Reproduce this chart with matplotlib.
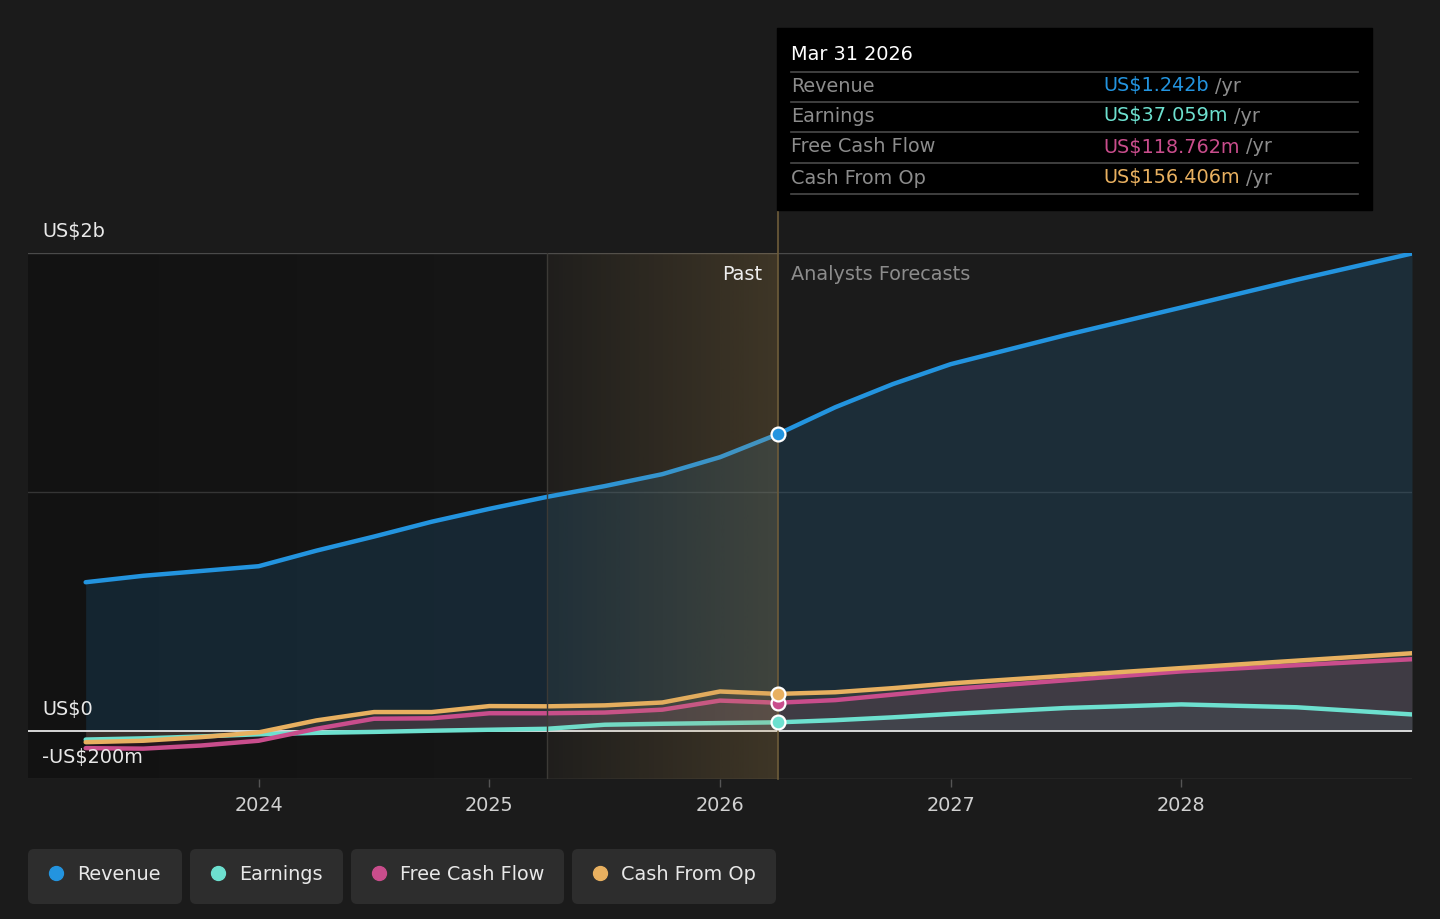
import numpy as np
import matplotlib
matplotlib.use("Agg")
import matplotlib.pyplot as plt
from matplotlib.patches import Rectangle, FancyBboxPatch

# ---- data (US$ billions, decimal years) ----
past_t = [2023.25, 2023.5, 2023.75, 2024.0, 2024.25, 2024.5, 2024.75,
          2025.0, 2025.25, 2025.5, 2025.75, 2026.0, 2026.25]
fc_t = [2026.25, 2026.5, 2026.75, 2027.0, 2027.5, 2028.0, 2028.5, 2029.0]

revenue_past = [0.623, 0.65, 0.67, 0.69, 0.755, 0.814, 0.876,
                0.93, 0.98, 1.025, 1.075, 1.146, 1.242]
revenue_fc = [1.242, 1.355, 1.452, 1.535, 1.657, 1.772, 1.888, 1.998]

earnings_past = [-0.035, -0.03, -0.022, -0.013, -0.007, -0.003, 0.002,
                 0.006, 0.01, 0.027, 0.031, 0.034, 0.037]
earnings_fc = [0.037, 0.046, 0.058, 0.072, 0.097, 0.112, 0.1, 0.07]

fcf_past = [-0.071, -0.073, -0.06, -0.04, 0.01, 0.052, 0.054,
            0.075, 0.075, 0.078, 0.09, 0.128, 0.119]
fcf_fc = [0.119, 0.13, 0.153, 0.176, 0.213, 0.25, 0.276, 0.301]

cfo_past = [-0.046, -0.04, -0.025, -0.005, 0.045, 0.08, 0.08,
            0.105, 0.104, 0.108, 0.12, 0.166, 0.156]
cfo_fc = [0.156, 0.163, 0.18, 0.2, 0.232, 0.264, 0.295, 0.326]

names = ["Revenue", "Earnings", "Free Cash Flow", "Cash From Op"]
colors = ["#2394df", "#6de0cf", "#c94d8c", "#e8b060"]
tip_values = ["US$1.242b", "US$37.059m", "US$118.762m", "US$156.406m"]
year_ticks = [2024, 2025, 2026, 2027, 2028]
now = 2026.25
band_start = 2025.25

BG = "#1b1b1b"
FS = 13.9
W, H = 1440, 919

fig = plt.figure(figsize=(W / 100, H / 100), dpi=100, facecolor=BG)
ax = fig.add_axes([28 / W, 1 - 779 / H, (1412 - 28) / W, (779 - 253) / H])
ax.set_facecolor(BG)
ax.set_xlim(2023.0, 2029.0)
ax.set_ylim(-0.2, 2.0)
for s in ax.spines.values():
    s.set_visible(False)

# darker past background
grad = np.linspace(0, 1, 256).reshape(1, -1)
dark = np.zeros((1, 256, 4))
dark[..., :3] = 0.05
dark[..., 3] = 0.6 - 0.25 * grad
ax.imshow(dark, extent=(2023.0, band_start, -0.2, 2.0), aspect="auto", zorder=0)

# grid
ax.axhline(2.0, color="#4a4a4a", lw=1, zorder=1)
ax.axhline(1.0, color="#353535", lw=1, zorder=1)
ax.axhline(-0.2, color="#4a4a4a", lw=1, zorder=1)

t_all = past_t + fc_t[1:]
rev_all = revenue_past + revenue_fc[1:]
ear_all = earnings_past + earnings_fc[1:]
fcf_all = fcf_past + fcf_fc[1:]
cfo_all = cfo_past + cfo_fc[1:]

ax.fill_between(t_all, 0, rev_all, color=colors[0], alpha=0.15, lw=0, zorder=2)
ax.fill_between(t_all, 0, cfo_all, color=colors[3], alpha=0.1, lw=0, zorder=2)
ax.fill_between(t_all, 0, fcf_all, color=colors[2], alpha=0.1, lw=0, zorder=2)
ax.fill_between(t_all, 0, ear_all, color=colors[1], alpha=0.05, lw=0, zorder=2)

ax.axhline(0, color="#e6e6e6", lw=1.3, zorder=3)

series = [rev_all, ear_all, fcf_all, cfo_all]
for vals, c in zip(series, colors):
    ax.plot(t_all, vals, color=c, lw=3.2, solid_capstyle="round",
            solid_joinstyle="round", zorder=4)

# highlight band over the last past year
band = np.zeros((1, 256, 4))
band[..., 0] = 190 / 255
band[..., 1] = 150 / 255
band[..., 2] = 80 / 255
band[..., 3] = 0.03 + 0.19 * grad
ax.imshow(band, extent=(band_start, now, -0.2, 2.0), aspect="auto", zorder=5)

ax.axvline(band_start, color="#3c3a36", lw=1, zorder=5)
ax.axvline(now, ymin=0, ymax=(779 - 210) / (779 - 253), color="#6e5c3a",
           lw=1.2, zorder=5, clip_on=False)

# current markers
for vals, c in zip(series, colors):
    ax.plot([now], [vals[len(past_t) - 1]], "o", ms=10, mfc=c, mec="white",
            mew=1.6, zorder=6)

# ticks
ax.set_xticks(year_ticks)
ax.set_xticklabels([str(y) for y in year_ticks])
ax.tick_params(axis="x", colors="#555555", labelcolor="#d0d0d0",
               labelsize=FS, length=6, width=1, pad=6)
ax.set_yticks([])

# y labels
fig.text(42 / W, 1 - 231 / H, "US$2b", color="#e8e8e8", fontsize=FS, va="center")
fig.text(42 / W, 1 - 709 / H, "US$0", color="#e8e8e8", fontsize=FS, va="center")
fig.text(42 / W, 1 - 758 / H, "-US$200m", color="#e8e8e8", fontsize=FS, va="center")

fig.text(762 / W, 1 - 274 / H, "Past", color="#eeeeee", fontsize=FS,
         ha="right", va="center")
fig.text(791 / W, 1 - 274 / H, "Analysts Forecasts", color="#8c8c8c",
         fontsize=FS, ha="left", va="center")

# overlay axes in pixel coordinates for tooltip and legend
ov = fig.add_axes([0, 0, 1, 1], facecolor="none")
ov.set_xlim(0, W)
ov.set_ylim(H, 0)
ov.axis("off")

ov.add_patch(Rectangle((777, 28), 595, 182, color="#000000", zorder=1))
ov.text(791, 55, "Mar 31 2026", color="white", fontsize=FS, va="center")
row_y = [86, 116, 147, 178]
for y in [72] + [r + 16 for r in row_y]:
    ov.plot([791, 1358], [y, y], color="#4a4a4a", lw=1.2)
for name, val, c, y in zip(names, tip_values, colors, row_y):
    ov.text(791, y, name, color="#8c8c8c", fontsize=FS, va="center")
    t = ov.text(1103, y, val, color=c, fontsize=FS, va="center")
    fig.canvas.draw()
    bb = t.get_window_extent()
    ov.text(1103 + bb.width + 6, y, "/yr", color="#8c8c8c", fontsize=FS,
            va="center")

# legend chips
chips = [(28, 182), (190, 343), (351, 564), (572, 776)]
for (x0, x1), name, c in zip(chips, names, colors):
    ov.add_patch(FancyBboxPatch((x0 + 5, 854), x1 - x0 - 10, 45,
                                boxstyle="round,pad=5,rounding_size=6",
                                fc="#2d2d2d", ec="none"))
    ov.plot([x0 + 28], [873], "o", ms=10, color=c)
    ov.text(x0 + 49, 874, name, color="#e8e8e8", fontsize=FS, va="center")

fig.savefig("out.png", dpi=100, facecolor=BG)
